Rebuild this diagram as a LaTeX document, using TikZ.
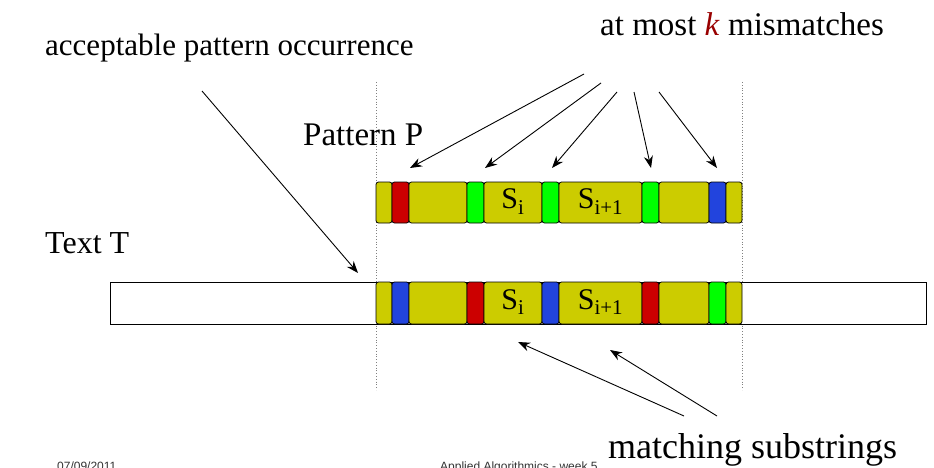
\documentclass[tikz,border=0pt]{standalone}
\usepackage{fontspec}
\setmainfont{Liberation Serif}
\newfontfamily\footfont{Liberation Sans}
\usetikzlibrary{arrows.meta}
\definecolor{segy}{RGB}{204,204,0}
\definecolor{segr}{RGB}{204,0,0}
\definecolor{segg}{RGB}{0,255,0}
\definecolor{segb}{RGB}{34,68,221}
\definecolor{kred}{RGB}{153,0,0}
\tikzset{
  seg/.style={draw=black, line width=0.8pt, rounded corners=2.5pt, inner sep=0pt, outer sep=0pt},
  lbl/.style={font=\fontsize{32}{38}\selectfont, inner sep=0pt, anchor=base west},
  silbl/.style={font=\fontsize{30}{34}\selectfont, inner sep=0pt},
  arr/.style={-{Stealth[length=12pt,width=9pt]}, line width=0.9pt},
  guide/.style={gray, dotted, line width=0.8pt},
  foot/.style={font=\footfont\fontsize{12}{14}\selectfont, inner sep=0pt, anchor=north west, text=black!80}
}
\begin{document}
\begin{tikzpicture}[x=1pt,y=-1pt]
\useasboundingbox (0,0) rectangle (934,468);
\begin{scope}
\clip (0,0) rectangle (934,468);
\fill[white] (0,0) rectangle (934,468);

% guides
\coordinate (g1t) at (376,82); \coordinate (g1b) at (376,390);
\coordinate (g2t) at (742,82); \coordinate (g2b) at (742,390);
\draw[guide] (g1t) -- (g1b);
\draw[guide] (g2t) -- (g2b);

% text bar
\node[draw=black, line width=0.8pt, fill=white, minimum width=816pt, minimum height=42pt, inner sep=0pt] (textbar) at (518,303) {};

% pattern segments
\foreach \a/\b/\c [count=\i] in {376/392/segy, 392/409/segr, 409/467/segy, 467/484/segg, 484/542/segy, 542/559/segg, 559/642/segy, 642/659/segg, 659/709/segy, 709/726/segb, 726/742/segy}
  \node[seg, fill=\c, minimum width={(\b-\a)*1pt}, minimum height=41pt] (p\i) at ({(\a+\b)/2},202.5) {};

% text segments
\foreach \a/\b/\c [count=\i] in {376/392/segy, 392/409/segb, 409/467/segy, 467/484/segr, 484/542/segy, 542/559/segb, 559/642/segy, 642/659/segr, 659/709/segy, 709/726/segg, 726/742/segy}
  \node[seg, fill=\c, minimum width={(\b-\a)*1pt}, minimum height=42pt] (t\i) at ({(\a+\b)/2},303) {};

\node[silbl] (psi) at ([yshift=1pt]p5.center) {S\textsubscript{i}};
\node[silbl] (psj) at ([yshift=1pt]p7.center) {S\textsubscript{i+1}};
\node[silbl] (tsi) at ([yshift=1pt]t5.center) {S\textsubscript{i}};
\node[silbl] (tsj) at ([yshift=1pt]t7.center) {S\textsubscript{i+1}};

% labels
\node[lbl, font=\fontsize{31}{36}\selectfont] (acc) at (45,56) {acceptable pattern occurrence};
\node[lbl, font=\fontsize{33}{38}\selectfont] (most) at (600,36) {at most \textcolor{kred}{\textit{k}} mismatches};
\node[lbl, font=\fontsize{33}{38}\selectfont] (pat) at (303,146) {Pattern P};
\node[lbl] (txt) at (45,253) {Text T};
\node[lbl, font=\fontsize{36}{40}\selectfont] (match) at (608,458) {matching substrings};

% footer (cut off at bottom, as in the slide)
\node[foot] (date) at (57,462) {07/09/2011};
\node[foot] (title) at (440,462) {Applied Algorithmics - week 5};

% arrows: mismatches
\coordinate (m1s) at (584,74);  \coordinate (m1e) at (410,168);
\coordinate (m2s) at (601,83);  \coordinate (m2e) at (485,168);
\coordinate (m3s) at (617,92);  \coordinate (m3e) at (552,168);
\coordinate (m4s) at (634,92);  \coordinate (m4e) at (651,168);
\coordinate (m5s) at (659,92);  \coordinate (m5e) at (717,168);
\draw[arr] (m1s) -- (m1e);
\draw[arr] (m2s) -- (m2e);
\draw[arr] (m3s) -- (m3e);
\draw[arr] (m4s) -- (m4e);
\draw[arr] (m5s) -- (m5e);

% acceptable occurrence arrow
\coordinate (as) at (202,91); \coordinate (ae) at (358,273);
\draw[arr] (as) -- (ae);

% matching substrings arrows
\coordinate (s1s) at (684,416); \coordinate (s1e) at (518,342);
\coordinate (s2s) at (717,416); \coordinate (s2e) at (610,350);
\draw[arr] (s1s) -- (s1e);
\draw[arr] (s2s) -- (s2e);
\end{scope}
\end{tikzpicture}
\end{document}
